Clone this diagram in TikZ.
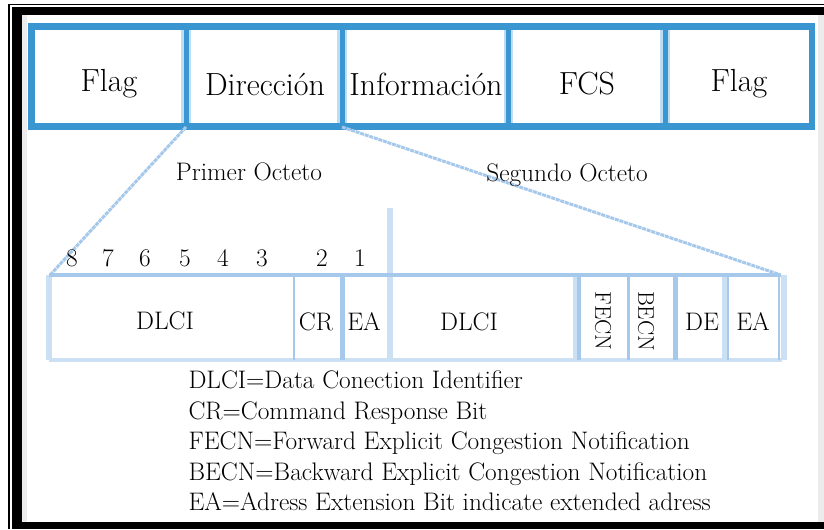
\documentclass[tikz,border=0pt]{standalone}
\usetikzlibrary{positioning}
\definecolor{barblue}{RGB}{58,150,208}
\definecolor{barhalo}{RGB}{190,220,242}
\definecolor{octblue}{RGB}{166,200,234}
\definecolor{octpale}{RGB}{204,224,243}
\definecolor{edgegray}{RGB}{236,236,236}
\tikzset{every picture/.style={line width=0.75pt}}
\tikzset{
	field/.style={font=\fontsize{24}{28}\selectfont, inner sep=0pt},
	small/.style={font=\fontsize{19}{22}\selectfont, inner sep=0pt},
	legend/.style={small, anchor=base west},
	zoomline/.style={octblue, line width=2.25, dash pattern=on 3pt off 0.6pt},
	octline/.style={octblue, line width=2.6},
	paleline/.style={octpale, line width=4.5}}

\begin{document}
\begin{tikzpicture}[x=0.75pt,y=0.75pt,yscale=-1,xscale=1]
	\useasboundingbox (0,0) rectangle (824,529);

	%Frame
	\fill [edgegray] (22,15) rectangle (27,522);
	\fill [edgegray] (818,15) rectangle (824,522);
	\fill (12,7) rectangle (824,15);
	\fill (12,7) rectangle (22,529);
	\fill (12,522) rectangle (824,529);
	\draw [line width=1.2] (9,529) -- (9,4.5) -- (824,4.5);

	%Frame fields
	\foreach \x in {186,342,508.5,665}
		\draw [barhalo, line width=7] (\x,26.5) -- (\x,126.5);
	\foreach \x in {186,342,508.5,665}
		\draw [barblue, line width=3.75] (\x,26.5) -- (\x,126.5);
	\draw [barblue, line width=5] (31.5,26.5) rectangle (812,126.5);

	% Text Node
	\node [field] (flagA) at (109,84) {Flag};
	\node [field] (dir) at (265,84) {Dirección};
	\node [field] (info) at (426,84) {Información};
	\node [field] (fcs) at (587,84) {FCS};
	\node [field] (flagB) at (739,84) {Flag};

	\coordinate (dirSW) at (186,127);
	\coordinate (infoSW) at (342,127);
	\coordinate (octA) at (51,274);
	\coordinate (octB) at (778,274);

	%Address octets
	\draw [paleline] (390,208) -- (390,360);
	\draw [paleline] (49,275) -- (49,360);
	\draw [paleline, line width=3.5] (49,360) -- (782,360);
	\draw [paleline] (576,275) -- (576,360);
	\draw [paleline] (725,275) -- (725,360);
	\draw [paleline, line width=4] (784,275) -- (784,360);
	\draw [octline, line width=3.75] (342,275) -- (342,360);
	\draw [octline] (579,275) -- (579,360);
	\draw [octline] (628.5,275) -- (628.5,360);
	\draw [octline, line width=3.75] (675.5,275) -- (675.5,360);
	\draw [octline, line width=1.5] (728,275) -- (728,360);
	\draw [octline, line width=1.5] (779,275) -- (779,360);
	\draw [octline, line width=1] (294,275) -- (294,360);
	\draw [octline, line width=3] (49,275) -- (781,275);

	\draw [zoomline] (dirSW) -- (octA);
	\draw [zoomline] (infoSW) -- (octB);

	% Text Node
	\node [small] (primer) at (249,172) {Primer Octeto};
	\node [small] (segundo) at (567,175) {Segundo Octeto};

	\foreach \x/\b in {72/8,108/7,145/6,185/5,223/4,262/3,322/2,360/1}
		\node [small] (bit\b) at (\x,258) {\b};

	\node [small] (dlciA) at (165,321) {DLCI};
	\node [small] (cr) at (316,322) {CR};
	\node [small] (eaA) at (364,322) {EA};
	\node [small] (dlciB) at (469,322) {DLCI};
	\node [small, rotate=-90, font=\fontsize{17}{20}\selectfont] (fecn) at (603,321) {FECN};
	\node [small, rotate=-90, font=\fontsize{17}{20}\selectfont] (becn) at (646,321) {BECN};
	\node [small] (de) at (702,322) {DE};
	\node [small] (eaB) at (753,322) {EA};

	% Legend
	\foreach \t [count=\i] in {DLCI=Data Conection Identifier,
		CR=Command Response Bit,
		FECN=Forward Explicit Congestion Notification,
		BECN=Backward Explicit Congestion Notification,
		EA=Adress Extension Bit indicate extended adress}
		\node [legend] (leg\i) at (188,358+30.5*\i) {\t};

\end{tikzpicture}
\end{document}
